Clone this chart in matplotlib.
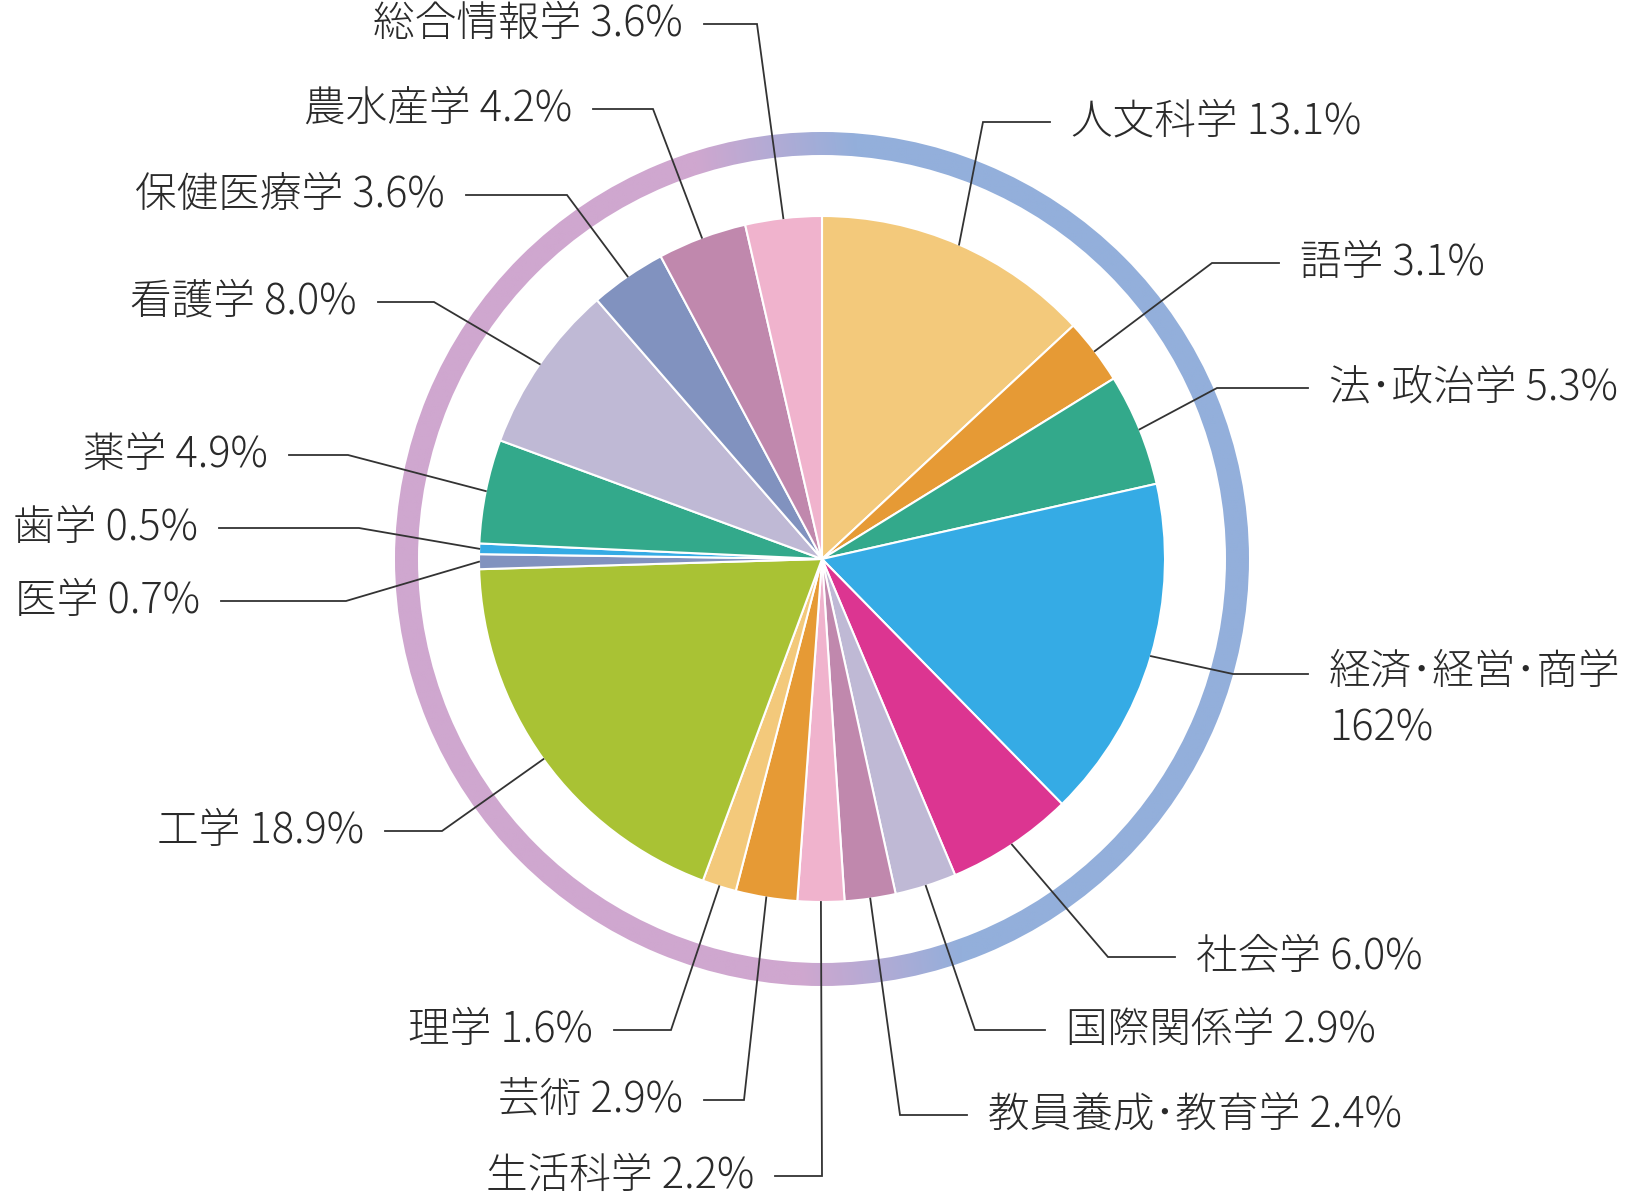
import numpy as np
import matplotlib
matplotlib.use("Agg")
import matplotlib.pyplot as plt
from matplotlib.patches import Wedge

plt.rcParams['font.family'] = ['Noto Sans CJK JP', 'DejaVu Sans']

# data, clockwise from 12 o'clock
fields = ['人文科学', '語学', '法･政治学', '経済･経営･商学', '社会学', '国際関係学',
          '教員養成･教育学', '生活科学', '芸術', '理学', '工学', '医学', '歯学',
          '薬学', '看護学', '保健医療学', '農水産学', '総合情報学']
shares = [13.1, 3.1, 5.3, 16.2, 6.0, 2.9, 2.4, 2.2, 2.9, 1.6, 18.9, 0.7, 0.5,
          4.9, 8.0, 3.6, 4.2, 3.6]
pct_labels = ['13.1%', '3.1%', '5.3%', '162%', '6.0%', '2.9%', '2.4%', '2.2%', '2.9%',
              '1.6%', '18.9%', '0.7%', '0.5%', '4.9%', '8.0%', '3.6%', '4.2%', '3.6%']
colors = ['#F3C97B', '#E69A35', '#33A98B', '#35ABE5', '#DC3591', '#BFB9D5',
          '#C088AD', '#F0B3CD', '#E69A35', '#F3C97B', '#A9C234', '#8192BF',
          '#35ABE5', '#33A98B', '#BFB9D5', '#8192BF', '#C088AD', '#F0B3CD']

# label layout in pixel space: text x, text y, elbow x, side
layout = [
    (1071, 122, 983, 'R'), (1300, 263, 1212, 'R'), (1329, 388, 1217, 'R'),
    (1329, 674, 1233, 'R'), (1196, 957, 1108, 'R'), (1066, 1030, 975, 'R'),
    (988, 1115, 900, 'R'), (754, 1176, 822, 'L'), (683, 1100, 744, 'L'),
    (593, 1030, 671, 'L'), (364, 831, 442, 'L'), (200, 601, 346, 'L'),
    (198, 528, 359, 'L'), (268, 455, 348, 'L'), (357, 302, 434, 'L'),
    (445, 195, 567, 'L'), (572, 109, 653, 'L'), (683, 24, 757, 'L'),
]

W, H = 1631, 1196
cx, cy = 822, 559
r_pie = 343
r_out, r_in = 427, 404

fig = plt.figure(figsize=(W / 100, H / 100), dpi=100)
ax = fig.add_axes([0, 0, 1, 1])

# outer ring with blue -> purple gradient
ring = Wedge((cx, cy), r_out, 0, 360, width=r_out - r_in, facecolor='none', edgecolor='none')
ax.add_patch(ring)
x0, x1, y0, y1 = cx - r_out, cx + r_out, cy - r_out, cy + r_out
gx, gy = np.meshgrid(np.linspace(x0, x1, 400), np.linspace(y0, y1, 400))
ux, uy = 0.992, -0.128
t = (gx - cx) * ux + (gy - cy) * uy
frac = np.clip((t - 7) / 160 + 0.5, 0, 1)[..., None]
blue = np.array([0x93, 0xAF, 0xDB]) / 255
purple = np.array([0xCF, 0xA7, 0xCF]) / 255
grad = purple * (1 - frac) + blue * frac
im = ax.imshow(grad, extent=(x0, x1, y1, y0), origin='upper', zorder=1, interpolation='bilinear')
im.set_clip_path(ring)

# y axis is inverted, so counterclock in data = clockwise on screen
wedges, _ = ax.pie(shares, colors=colors, startangle=-90, counterclock=True,
                   center=(cx, cy), radius=r_pie, frame=True,
                   wedgeprops=dict(edgecolor='white', linewidth=1.5))
for w in wedges:
    w.set_zorder(2)

font = dict(fontsize=30, color='#2a2a2a', fontweight='light')
for w, name, pct, (tx, ty, ex, side) in zip(wedges, fields, pct_labels, layout):
    mid = np.deg2rad((w.theta1 + w.theta2) / 2)
    px = cx + r_pie * np.cos(mid)
    py = cy + r_pie * np.sin(mid)
    gap = 21
    hx = tx + gap if side == 'L' else tx - gap
    ax.plot([px, ex, hx], [py, ty, ty], color='#333333', lw=1.3, zorder=3,
            solid_joinstyle='miter')
    if name.startswith('経済'):
        ax.text(tx, ty - 24, name + '\n' + pct, ha='left', va='top',
                linespacing=1.4, **font)
    else:
        ax.text(tx, ty, name + ' ' + pct, ha='right' if side == 'L' else 'left',
                va='center', **font)

ax.set_xlim(0, W)
ax.set_ylim(H, 0)
ax.set_aspect('auto')
ax.axis('off')

fig.savefig('out.png', dpi=100, facecolor='white')
